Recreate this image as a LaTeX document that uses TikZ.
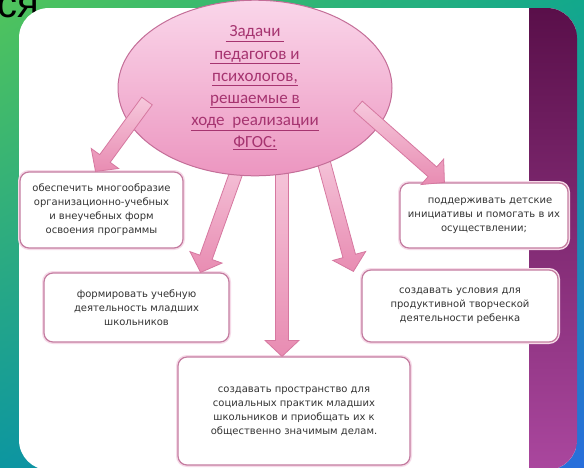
\documentclass[tikz,border=0pt]{standalone}
\usepackage{fontspec}
\setmainfont{Carlito}
\newfontfamily\boxfont{DejaVu Sans}
\newfontfamily\slidefont{Liberation Sans}
\usetikzlibrary{shapes.geometric,calc,shadings}
\definecolor{gA}{RGB}{80,196,92}
\definecolor{gB}{RGB}{18,168,140}
\definecolor{gC}{RGB}{12,150,160}
\definecolor{gD}{RGB}{40,110,220}
\definecolor{purpTop}{RGB}{88,14,72}
\definecolor{purpBot}{RGB}{172,72,160}
\definecolor{ellTop}{RGB}{250,214,234}
\definecolor{ellBot}{RGB}{236,150,192}
\definecolor{ellLine}{RGB}{196,110,152}
\definecolor{titleInk}{RGB}{166,52,112}
\definecolor{boxLine}{RGB}{196,124,160}
\definecolor{boxGlow}{RGB}{246,218,232}
\definecolor{boxInk}{RGB}{52,52,52}
\definecolor{arrTop}{RGB}{246,200,220}
\definecolor{arrBot}{RGB}{232,140,178}
\definecolor{arrLine}{RGB}{214,120,160}
\newcommand{\blockarrowpath}[2]{%
  \coordinate (#2-h) at ($(#2)!16pt!(#1)$);
  \path[blockarrow] ($(#1)!6.5pt!90:(#2)$) -- ($(#2-h)!6.5pt!90:(#2)$) -- ($(#2-h)!17pt!90:(#2)$) -- (#2) -- ($(#2-h)!17pt!-90:(#2)$) -- ($(#2-h)!6.5pt!-90:(#2)$) -- ($(#1)!6.5pt!-90:(#2)$) -- cycle;}
\begin{document}
\begin{tikzpicture}[x=1pt,y=-1pt,
  taskbox/.style={draw=boxLine, line width=1.2pt, fill=white, rounded corners=9pt,
    preaction={draw=boxGlow, line width=4pt},
    align=center, font=\boxfont\fontsize{10}{14}\selectfont, text=boxInk, inner sep=0pt},
  blockarrow/.style={top color=arrTop, bottom color=arrBot, draw=arrLine, line width=0.8pt, line join=miter}]
\useasboundingbox (0,0) rectangle (584,467);
\shade[upper left=gA, upper right=gB, lower left=gC, lower right=gD] (0,0) rectangle (584,467);
\node[font=\slidefont\fontsize{40}{40}\selectfont, anchor=base west, inner sep=0pt] (slidetitle) at (-3,17) {ся};
\begin{scope}
  \clip[rounded corners=30pt] (19,8) rectangle (577,470);
  \fill[white] (19,8) rectangle (577,470);
  \shade[top color=purpTop, bottom color=purpBot] (529,0) rectangle (584,480);
\end{scope}
% boxes
\node[taskbox, minimum width=163pt, minimum height=76pt] (box1) at (101.5,210) {обеспечить многообразие\\организационно-учебных\\и внеучебных форм\\освоения программы};
\node[taskbox, minimum width=185pt, minimum height=69pt] (box2) at (136.5,307.5) {формировать учебную\\деятельность младших\\школьников};
\node[taskbox, minimum width=232pt, minimum height=108pt] (box3) at (294,411) {создавать пространство для\\социальных практик младших\\школьников и приобщать их к\\общественно значимым делам.};
\node[taskbox, minimum width=168pt, minimum height=65pt] (box4) at (484,215.5) {\hspace{12pt}поддерживать детские\\инициативы и помогать в их\\осуществлении;};
\node[taskbox, minimum width=196pt, minimum height=72pt] (box5) at (460,306) {создавать условия для\\продуктивной творческой\\деятельности ребенка};
% arrow anchors
\coordinate (goalc) at (255,88);
\coordinate (sA) at ($(goalc)+(-108,13)$);
\coordinate (sB) at ($(goalc)+(-12,66)$);
\coordinate (sC) at ($(goalc)+(27,66)$);
\coordinate (sD) at ($(goalc)+(65,60)$);
\coordinate (sE) at ($(goalc)+(103,18)$);
\coordinate (tA) at ($(box1.north)+(-6,0)$);
\coordinate (tB) at ($(box2.north east)+(-29,0)$);
\coordinate (tC) at ($(box3.north)+(-12,0)$);
\coordinate (tD) at ($(box5.north west)+(-8,2)$);
\coordinate (tE) at ($(box4.north west)+(45,0)$);
\blockarrowpath{sB}{tB}
\blockarrowpath{sC}{tC}
\blockarrowpath{sD}{tD}
% ellipse
\node[ellipse, draw=ellLine, line width=1pt, top color=ellTop, bottom color=ellBot,
  minimum width=274pt, minimum height=154pt, inner sep=0pt, align=center,
  text=titleInk, font=\fontsize{17}{22.2}\selectfont] (goal) at (goalc)
  {\underline{\ Задачи\ }\\\underline{\ педагогов и}\\\underline{психологов,}\\\underline{решаемые в}\\\underline{ходе\ \ реализации}\\\underline{ФГОС:}};
\blockarrowpath{sA}{tA}
\blockarrowpath{sE}{tE}
\end{tikzpicture}
\end{document}
